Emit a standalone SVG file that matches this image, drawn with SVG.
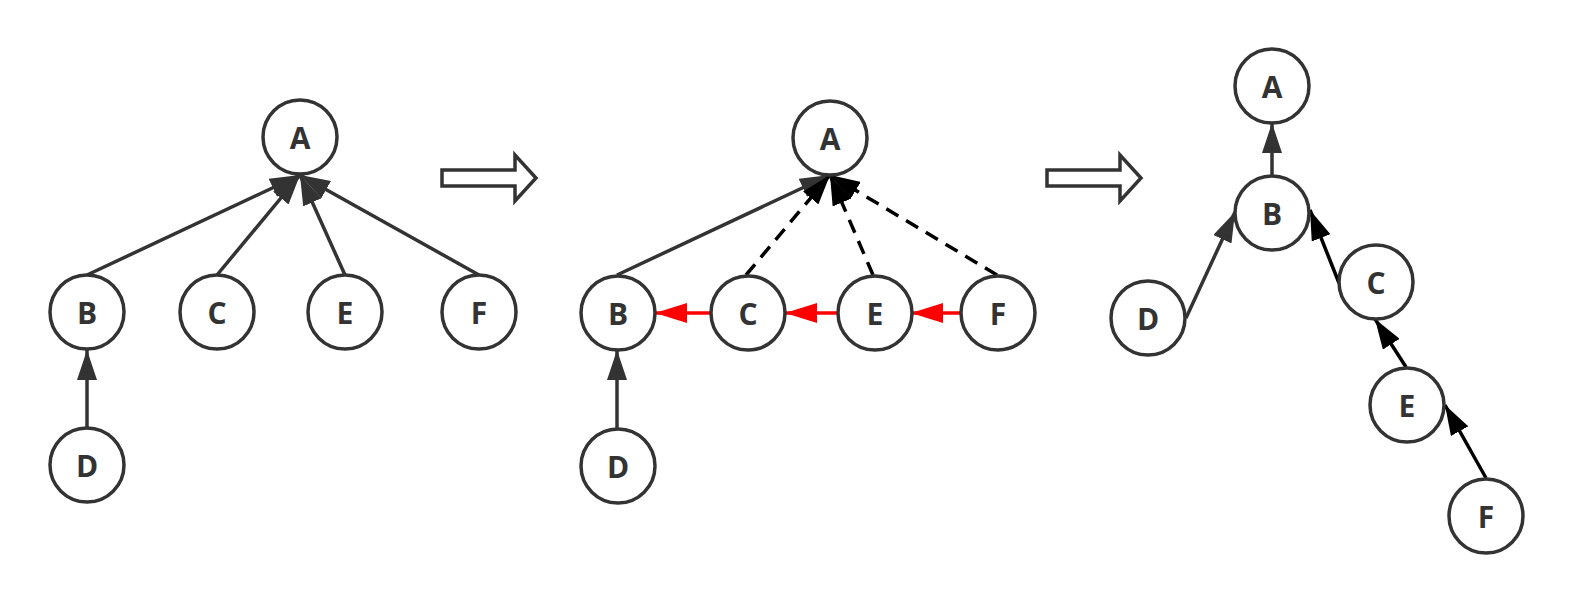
<svg xmlns="http://www.w3.org/2000/svg" width="1573" height="603" viewBox="0 0 1573 603">
<style>
.n circle{fill:#fff;stroke:#333;stroke-width:3.5}
.n text{font-family:"Open Sans","Noto Sans","Liberation Sans",sans-serif;font-weight:bold;font-size:30px;fill:#333;text-anchor:middle;dominant-baseline:central}
.e{stroke:#333;stroke-width:3.5;fill:none}
.k{stroke:#000;stroke-width:3.5;fill:none}
.d{stroke:#000;stroke-width:3.5;fill:none;stroke-dasharray:14 9}
.r{stroke:#f00;stroke-width:3.5;fill:none}
.big{fill:#fff;stroke:#333;stroke-width:3.5}
</style>
<defs>
<marker id="mg" markerUnits="userSpaceOnUse" markerWidth="30" markerHeight="20" refX="30" refY="10" orient="auto"><path d="M0,0 L30,10 L0,20 z" fill="#333"/></marker>
<marker id="mk" markerUnits="userSpaceOnUse" markerWidth="30" markerHeight="20" refX="30" refY="10" orient="auto"><path d="M0,0 L30,10 L0,20 z" fill="#000"/></marker>
<marker id="mr" markerUnits="userSpaceOnUse" markerWidth="32" markerHeight="20" refX="32" refY="10" orient="auto"><path d="M0,0 L32,10 L0,20 z" fill="#f00"/></marker>
</defs>
<g id="connectors">
<line class="e" x1="87" y1="275" x2="300" y2="175" marker-end="url(#mg)"/>
<line class="e" x1="217" y1="275" x2="300" y2="175" marker-end="url(#mg)"/>
<line class="e" x1="345" y1="275" x2="300" y2="175" marker-end="url(#mg)"/>
<line class="e" x1="479" y1="275" x2="300" y2="175" marker-end="url(#mg)"/>
<line class="e" x1="87" y1="428" x2="87" y2="350" marker-end="url(#mg)"/>
<line class="e" x1="617" y1="275" x2="830" y2="175" marker-end="url(#mg)"/>
<line class="d" x1="746" y1="275" x2="830" y2="175" marker-end="url(#mk)"/>
<line class="d" x1="873" y1="275" x2="830" y2="175" marker-end="url(#mk)"/>
<line class="d" x1="997" y1="275" x2="830" y2="175" marker-end="url(#mk)"/>
<line class="e" x1="617" y1="428" x2="617" y2="350" marker-end="url(#mg)"/>
<line class="r" x1="711" y1="313" x2="655" y2="313" marker-end="url(#mr)"/>
<line class="r" x1="838" y1="313" x2="785" y2="313" marker-end="url(#mr)"/>
<line class="r" x1="961" y1="313" x2="911" y2="313" marker-end="url(#mr)"/>
<polygon class="big" points="442,170 515,170 515,155 536,178 515,201 515,186 442,186"/>
<polygon class="big" points="1047,170 1120,170 1120,155 1141,178 1120,201 1120,186 1047,186"/>
<line class="e" x1="1272" y1="176" x2="1272" y2="123" marker-end="url(#mg)"/>
<line class="e" x1="1186" y1="318" x2="1235" y2="212" marker-end="url(#mg)"/>
<line class="k" x1="1339" y1="283" x2="1310" y2="210" marker-end="url(#mk)"/>
<line class="k" x1="1406" y1="367" x2="1375" y2="319" marker-end="url(#mk)"/>
<line class="k" x1="1486" y1="478" x2="1445" y2="405" marker-end="url(#mk)"/>
</g>
<g id="L-A" class="n"><circle cx="300" cy="137" r="37"/><text x="300" y="137">A</text></g>
<g id="L-B" class="n"><circle cx="87" cy="312" r="37"/><text x="87" y="312">B</text></g>
<g id="L-C" class="n"><circle cx="217" cy="312" r="37"/><text x="217" y="312">C</text></g>
<g id="L-E" class="n"><circle cx="345" cy="312" r="37"/><text x="345" y="312">E</text></g>
<g id="L-F" class="n"><circle cx="479" cy="312" r="37"/><text x="479" y="312">F</text></g>
<g id="L-D" class="n"><circle cx="87" cy="465" r="37"/><text x="87" y="465">D</text></g>
<g id="M-A" class="n"><circle cx="830" cy="138" r="37"/><text x="830" y="138">A</text></g>
<g id="M-B" class="n"><circle cx="618" cy="313" r="37"/><text x="618" y="313">B</text></g>
<g id="M-C" class="n"><circle cx="748" cy="313" r="37"/><text x="748" y="313">C</text></g>
<g id="M-E" class="n"><circle cx="875" cy="313" r="37"/><text x="875" y="313">E</text></g>
<g id="M-F" class="n"><circle cx="998" cy="313" r="37"/><text x="998" y="313">F</text></g>
<g id="M-D" class="n"><circle cx="618" cy="466" r="37"/><text x="618" y="466">D</text></g>
<g id="R-A" class="n"><circle cx="1272" cy="86" r="37"/><text x="1272" y="86">A</text></g>
<g id="R-B" class="n"><circle cx="1272" cy="213" r="37"/><text x="1272" y="213">B</text></g>
<g id="R-D" class="n"><circle cx="1148" cy="318" r="37"/><text x="1148" y="318">D</text></g>
<g id="R-C" class="n"><circle cx="1376" cy="282" r="37"/><text x="1376" y="282">C</text></g>
<g id="R-E" class="n"><circle cx="1407" cy="405" r="37"/><text x="1407" y="405">E</text></g>
<g id="R-F" class="n"><circle cx="1486" cy="516" r="37"/><text x="1486" y="516">F</text></g>
</svg>
